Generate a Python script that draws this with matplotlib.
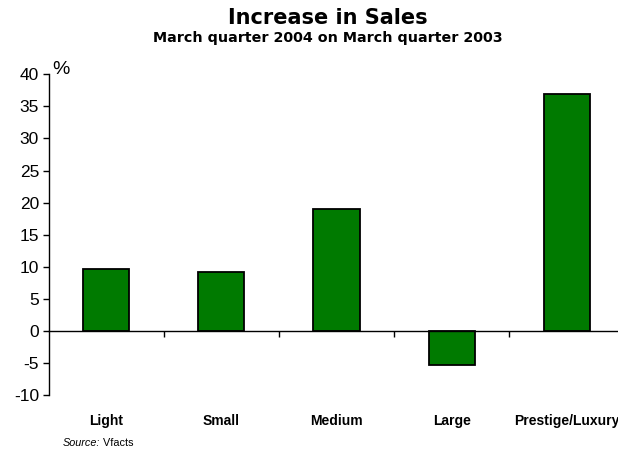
import matplotlib
matplotlib.use("Agg")
import matplotlib.pyplot as plt
from matplotlib.transforms import blended_transform_factory

categories = ["Light", "Small", "Medium", "Large", "Prestige/Luxury"]
values = [9.6, 9.1, 19.0, -5.3, 36.9]
yticks = [-10, -5, 0, 5, 10, 15, 20, 25, 30, 35, 40]

W, H = 618, 450
fig = plt.figure(figsize=(W / 100, H / 100), dpi=100)
ax = fig.add_axes([48.75 / W, 1 - 395 / H, 575.5 / W, (395 - 74.3) / H])

x = list(range(len(categories)))
ax.bar(x, values, width=0.4, color="#007A00", edgecolor="black", linewidth=1.3, zorder=3)

ax.set_xlim(-0.5, len(categories) - 0.5)
ax.set_ylim(-10, 40)
ax.set_yticks(yticks)
ax.set_yticklabels([str(v) for v in yticks], fontfamily="Liberation Sans", fontsize=12.5)
ax.tick_params(axis="y", direction="out", length=4, width=1, pad=3)

ax.spines["top"].set_visible(False)
ax.spines["right"].set_visible(False)
ax.spines["bottom"].set_position(("data", 0))
ax.spines["bottom"].set_linewidth(1.0)
ax.spines["left"].set_linewidth(1.0)
ax.spines["bottom"].set_zorder(4)

ax.set_xticks([i + 0.5 for i in range(len(categories) - 1)])
ax.set_xticklabels([])
ax.tick_params(axis="x", direction="out", length=4, width=1)

tr = blended_transform_factory(ax.transData, fig.transFigure)
for i, c in enumerate(categories):
    ax.text(i, 1 - 421 / H, c, transform=tr, ha="center", va="center",
            fontfamily="Liberation Sans", fontweight="bold", fontsize=10)

fig.text(52 / W, 1 - 69 / H, "%", ha="left", va="center",
         fontfamily="Liberation Sans", fontsize=14)

fig.text(328 / W, 1 - 18 / H, "Increase in Sales", ha="center", va="center",
         fontfamily="DejaVu Sans", fontweight="bold", fontsize=15)
fig.text(328 / W, 1 - 38 / H, "March quarter 2004 on March quarter 2003", ha="center", va="center",
         fontfamily="DejaVu Sans", fontweight="bold", fontsize=10.3)

src = fig.text(63 / W, 1 - 443 / H, "Source:", ha="left", va="center",
               fontfamily="Liberation Sans", fontstyle="italic", fontsize=7.8)
fig.canvas.draw()
ax.annotate(" Vfacts", xy=(1, 0.5), xycoords=src, ha="left", va="center",
            fontfamily="Liberation Sans", fontsize=7.8, annotation_clip=False)

fig.savefig("out.png", dpi=100)
